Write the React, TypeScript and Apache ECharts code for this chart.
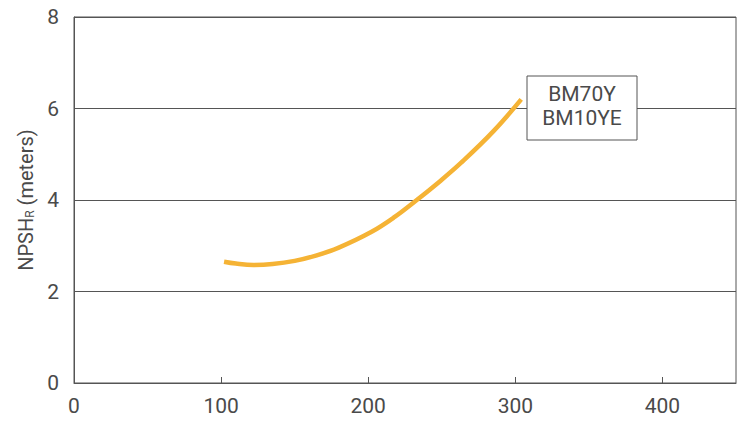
import React, { useEffect, useRef } from "react";
import * as echarts from "echarts";

const flowValues = [102, 110, 122, 135, 150, 165, 180, 202, 218, 233, 248, 263, 285, 304];
const npshValues = [2.65, 2.61, 2.58, 2.6, 2.67, 2.79, 2.96, 3.3, 3.63, 4.0, 4.39, 4.81, 5.5, 6.2];
const xTicks = [0, 100, 200, 300, 400];
const yTicks = [0, 2, 4, 6, 8];
const seriesLabelLines = ["BM70Y", "BM10YE"];

export default function App() {
  const ref = useRef<HTMLDivElement>(null);
  useEffect(() => {
    if (!ref.current) return;
    const chart = echarts.init(ref.current, null, { renderer: "svg" });
    const textColor = "#4a4a4a";
    const lineColor = "#555";
    const weight = 400;
    chart.setOption({
      animation: false,
      textStyle: { fontFamily: "Roboto" },
      grid: {
        left: 74,
        right: 6,
        top: 17,
        bottom: 38,
        show: true,
        borderColor: lineColor,
        borderWidth: 1,
      },
      xAxis: {
        type: "value",
        min: 0,
        max: 450,
        interval: 100,
        axisLine: { show: true, lineStyle: { color: lineColor, width: 1 } },
        axisTick: { show: true, inside: true, length: 6, lineStyle: { color: lineColor } },
        splitLine: { show: false },
        axisLabel: {
          color: textColor,
          fontSize: 21,
          fontWeight: weight,
          margin: 12,
          fontFamily: "Roboto",
          showMaxLabel: false,
          formatter: (v: number) => (xTicks.includes(v) ? String(v) : ""),
        },
      },
      yAxis: {
        type: "value",
        min: 0,
        max: 8,
        interval: 2,
        name: "NPSH{r|R} (meters)",
        nameLocation: "middle",
        nameGap: 36,
        nameRotate: 90,
        nameTextStyle: {
          color: textColor,
          fontSize: 20,
          fontWeight: weight,
          fontFamily: "Roboto",
          rich: {
            r: { fontSize: 12, fontWeight: weight, color: textColor, fontFamily: "Roboto", verticalAlign: "bottom", padding: [7, 0, 0, 0] },
          },
        },
        axisLine: { show: true, lineStyle: { color: lineColor, width: 1 } },
        axisTick: { show: false },
        splitLine: { show: true, lineStyle: { color: lineColor, width: 1 } },
        axisLabel: {
          color: textColor,
          fontSize: 21,
          fontWeight: weight,
          margin: 15,
          fontFamily: "Roboto",
          formatter: (v: number) => (yTicks.includes(v) ? String(v) : ""),
        },
      },
      series: [
        {
          type: "line",
          smooth: 0.4,
          symbol: "none",
          data: flowValues.map((x, i) => [x, npshValues[i]]),
          lineStyle: { color: "#F5B335", width: 4.5, cap: "butt" },
        },
      ],
      graphic: [
        {
          type: "rect",
          x: 527,
          y: 76,
          shape: { x: 0, y: 0, width: 110, height: 64 },
          style: { fill: "#fff", stroke: lineColor, lineWidth: 1 },
          z: 10,
        },
        {
          type: "text",
          x: 582,
          y: 82,
          z: 11,
          style: {
            text: seriesLabelLines.join("\n"),
            textAlign: "center",
            textVerticalAlign: "top",
            fill: textColor,
            fontSize: 21,
            fontWeight: weight,
            fontFamily: "Roboto",
            lineHeight: 24,
          },
        },
      ],
    });
    return () => chart.dispose();
  }, []);
  return <div ref={ref} style={{ width: 742, height: 421, position: "absolute", left: 0, top: 0, background: "#fff" }} />;
}
